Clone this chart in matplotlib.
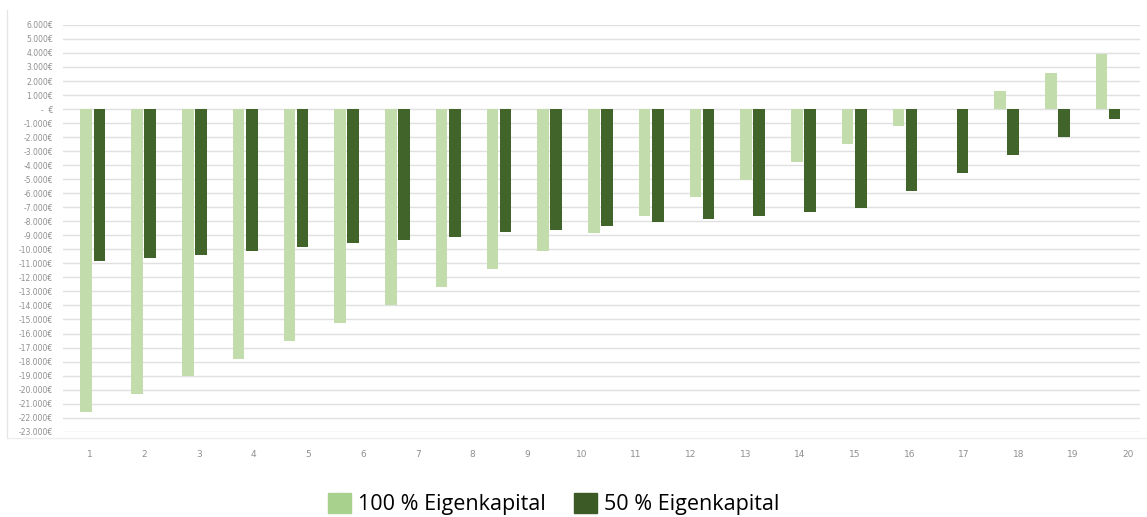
import matplotlib.pyplot as plt
import numpy as np
from matplotlib.patches import Patch
from matplotlib.lines import Line2D

# yearly result per scenario, in euro (21 bar groups)
eigen_100 = [-21600, -20330, -19050, -17800, -16500, -15230, -13950, -12700,
             -11400, -10140, -8850, -7600, -6300, -5050, -3770, -2500,
             -1200, 0, 1300, 2550, 3950]
eigen_50 = [-10850, -10600, -10380, -10140, -9860, -9570, -9330, -9100,
            -8790, -8600, -8320, -8080, -7840, -7600, -7320, -7080,
            -5830, -4550, -3270, -1990, -730]
x_labels = [str(i) for i in range(1, 21)]
y_ticks = list(range(-23000, 7000, 1000))
series_names = ["100 % Eigenkapital", "50 % Eigenkapital"]

light = "#c2dcab"
dark = "#41642a"


def euro(v):
    if v == 0:
        return "-  €"
    return f"{v:,.0f}€".replace(",", ".")


fig = plt.figure(figsize=(11.47, 5.17), dpi=100)
ax = fig.add_axes([0.0549, 0.165, 0.939, 0.7868])

x = np.arange(len(eigen_100))
w = 0.23
ax.bar(x - 0.13, eigen_100, width=w, color=light, zorder=3)
ax.bar(x + 0.13, eigen_50, width=w, color=dark, zorder=3)

ax.set_ylim(-23000, 6000)
ax.set_xlim(-0.59, 20.63)
ax.set_yticks(y_ticks)
ax.set_yticklabels([euro(v) for v in y_ticks])
ax.yaxis.grid(True, color="#e0e0e0", linewidth=1.0, zorder=0)
ax.tick_params(axis="y", length=0, pad=7, labelsize=5.5, labelcolor="#8f8f8f")

# category labels sit on their own spacing under the groups
ax.set_xticks(np.linspace(-0.06, 20.39, len(x_labels)))
ax.set_xticklabels(x_labels)
ax.tick_params(axis="x", length=0, pad=13, labelsize=6.5, labelcolor="#8f8f8f")

for s in ax.spines.values():
    s.set_visible(False)

# faint chart-area border on the left and bottom
fig.add_artist(Line2D([7 / 1147, 7 / 1147], [1 - 438 / 517, 1 - 10 / 517],
                      transform=fig.transFigure, color="#e6e6e6", lw=1))
fig.add_artist(Line2D([7 / 1147, 1.0], [1 - 438 / 517, 1 - 438 / 517],
                      transform=fig.transFigure, color="#eeeeee", lw=1))

handles = [Patch(color="#a9d18e"), Patch(color="#3b5a26")]
fig.legend(handles, series_names, loc="center", bbox_to_anchor=(0.4826, 0.025),
           ncol=2, frameon=False, prop={"family": "Open Sans", "size": 15.5},
           handlelength=1.07, handleheight=1.07, handletextpad=0.33,
           columnspacing=1.3, borderpad=0)

fig.savefig("out.png", dpi=100, facecolor="white")
